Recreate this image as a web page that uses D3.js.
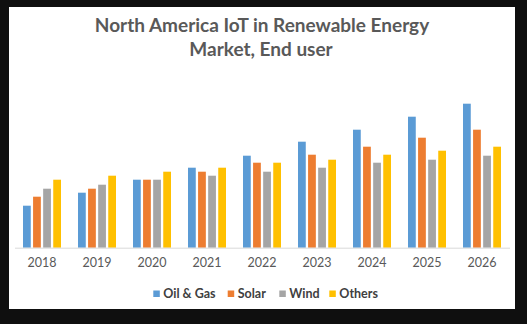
<!DOCTYPE html>
<html>
<head>
<meta charset="utf-8">
<script src="https://cdn.jsdelivr.net/npm/d3@7"></script>
<style>
  html, body { margin: 0; padding: 0; background: #0f0f0f; }
  svg { display: block; }
</style>
</head>
<body>
<svg id="chart"></svg>
<script>
// chart data
const years = ['2018', '2019', '2020', '2021', '2022', '2023', '2024', '2025', '2026'];
const seriesNames = ['Oil & Gas', 'Solar', 'Wind', 'Others'];
const oilGas = [4.2, 5.5, 6.8, 8.0, 9.2, 10.6, 11.8, 13.1, 14.4];
const solar  = [5.1, 5.9, 6.8, 7.6, 8.5, 9.3, 10.1, 11.0, 11.8];
const wind   = [5.9, 6.3, 6.8, 7.2, 7.6, 8.0, 8.5, 8.8, 9.2];
const others = [6.8, 7.2, 7.6, 8.0, 8.5, 8.8, 9.3, 9.7, 10.1];
const colors = ['#5B9BD5', '#ED7D31', '#A5A5A5', '#FFC000'];

const width = 527, height = 324;
const font = 'Lato, "Open Sans", sans-serif';

const svg = d3.select('#chart')
    .attr('width', width)
    .attr('height', height);

// white chart area inside the dark frame
svg.append('rect')
    .attr('x', 9).attr('y', 7)
    .attr('width', 506).attr('height', 302)
    .attr('fill', '#ffffff');

// title
const title = svg.append('text')
    .attr('text-anchor', 'middle')
    .attr('font-family', font)
    .attr('font-weight', 'bold')
    .attr('font-size', 19)
    .attr('fill', '#595959');
title.append('tspan').attr('x', 262).attr('y', 31.5).text('North America IoT in Renewable Energy');
title.append('tspan').attr('x', 261).attr('y', 55.5).text('Market, End user');

const plotLeft = 14.5, plotRight = 509.5, baseline = 247.7;

const x = d3.scaleBand()
    .domain(years)
    .range([plotLeft, plotRight])
    .padding(0);

const xInner = d3.scaleBand()
    .domain(seriesNames)
    .range([8.5, 46.5])
    .paddingInner(0.23);

const y = d3.scaleLinear()
    .domain([0, 16])
    .range([baseline, baseline - 160]);

const table = years.map((yr, i) => ({
    year: yr,
    values: [oilGas[i], solar[i], wind[i], others[i]]
}));

const groups = svg.selectAll('.year')
    .data(table)
    .enter().append('g')
    .attr('class', 'year')
    .attr('transform', d => 'translate(' + x(d.year) + ',0)');

groups.selectAll('rect')
    .data(d => d.values.map((v, k) => ({ name: seriesNames[k], value: v, k: k })))
    .enter().append('rect')
    .attr('x', d => xInner(d.name))
    .attr('width', xInner.bandwidth())
    .attr('y', d => y(d.value))
    .attr('height', d => baseline - y(d.value))
    .attr('fill', d => colors[d.k]);

// x axis
const xAxis = d3.axisBottom(x).tickSize(0).tickPadding(10);
const gx = svg.append('g')
    .attr('transform', 'translate(0,' + baseline + ')')
    .call(xAxis);
gx.select('.domain').attr('stroke', '#D9D9D9').attr('stroke-width', 1);
gx.selectAll('text')
    .attr('font-family', font)
    .attr('font-size', 12.5)
    .attr('fill', '#595959');

// legend
const legendItems = [
    { name: seriesNames[0], x: 153.3 },
    { name: seriesNames[1], x: 227.7 },
    { name: seriesNames[2], x: 279.3 },
    { name: seriesNames[3], x: 329.3 }
];
const legend = svg.append('g');
const li = legend.selectAll('g')
    .data(legendItems)
    .enter().append('g')
    .attr('transform', d => 'translate(' + d.x + ',290.5)');
li.append('rect')
    .attr('width', 6.5).attr('height', 6.5)
    .attr('fill', (d, i) => colors[i]);
li.append('text')
    .attr('x', 10)
    .attr('y', 3.5)
    .attr('dy', '0.35em')
    .attr('font-family', font)
    .attr('font-weight', 'bold')
    .attr('font-size', 12.5)
    .attr('fill', '#404040')
    .text(d => d.name);
</script>
</body>
</html>
